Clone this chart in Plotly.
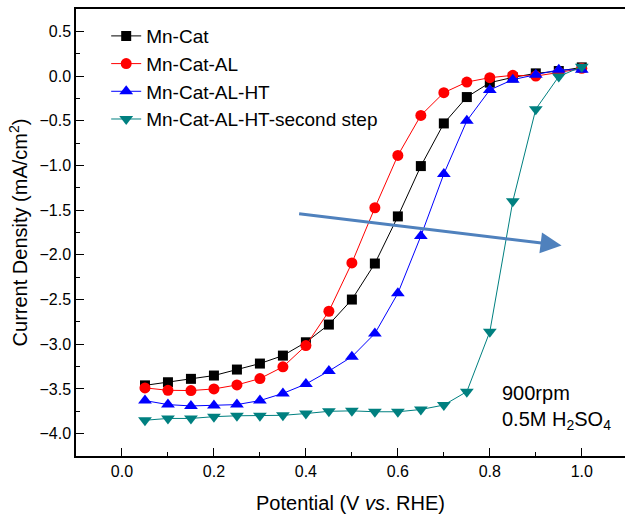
import plotly.graph_objects as go

potential = [0.05, 0.10, 0.15, 0.20, 0.25, 0.30, 0.35, 0.40, 0.45, 0.50,
             0.55, 0.60, 0.65, 0.70, 0.75, 0.80, 0.85, 0.90, 0.95, 1.00]

mn_cat = [-3.46, -3.425, -3.387, -3.35, -3.283, -3.216, -3.127, -2.978, -2.78, -2.50,
          -2.097, -1.57, -1.007, -0.53, -0.235, -0.074, -0.015, 0.03, 0.056, 0.097]
mn_cat_al = [-3.488, -3.515, -3.518, -3.50, -3.455, -3.384, -3.253, -3.015, -2.631, -2.09,
             -1.473, -0.888, -0.44, -0.186, -0.067, -0.018, 0.008, 0.0, 0.04, 0.086]
mn_cat_al_ht = [-3.63, -3.675, -3.69, -3.685, -3.675, -3.63, -3.55, -3.445, -3.30, -3.14,
                -2.88, -2.43, -1.79, -1.095, -0.50, -0.155, -0.04, 0.015, 0.07, 0.07]
mn_cat_al_ht_2 = [-3.85, -3.83, -3.83, -3.81, -3.80, -3.80, -3.795, -3.775, -3.75, -3.745,
                  -3.755, -3.755, -3.73, -3.68, -3.53, -2.86, -1.40, -0.37, -0.005, 0.105]

names = ["Mn-Cat", "Mn-Cat-AL", "Mn-Cat-AL-HT", "Mn-Cat-AL-HT-second step"]
colors = ["#000000", "#ff0000", "#0000ff", "#008080"]
symbols = ["square", "circle", "triangle-up", "triangle-down"]
sizes = [10, 11, 12, 12]
series = [mn_cat, mn_cat_al, mn_cat_al_ht, mn_cat_al_ht_2]

fig = go.Figure()
for name, col, sym, sz, ys in zip(names, colors, symbols, sizes, series):
    fig.add_trace(go.Scatter(
        x=potential, y=ys, name=name, mode="lines+markers",
        line=dict(color=col, width=1),
        marker=dict(symbol=sym, size=sz, color=col, line=dict(width=0)),
    ))

font_family = "Liberation Sans, Arial, sans-serif"

fig.add_annotation(
    x=0.956, y=-1.895, ax=0.382, ay=-1.537,
    xref="x", yref="y", axref="x", ayref="y",
    showarrow=True, arrowhead=2, arrowsize=1.4, arrowwidth=3,
    arrowcolor="#4f81bd", text="",
)
fig.add_annotation(
    x=0.822, y=-3.71, xref="x", yref="y", xanchor="left", yanchor="middle",
    text="900rpm<br>0.5M H<sub>2</sub>SO<sub>4</sub>", showarrow=False, align="left",
    font=dict(family=font_family, size=20, color="#000000"),
)

axis_common = dict(
    showgrid=False, zeroline=False, showline=True, linecolor="#000000", linewidth=1.5,
    ticks="inside", ticklen=8, tickwidth=1.2, tickcolor="#000000",
    tickfont=dict(family=font_family, size=16, color="#000000"),
)

fig.update_layout(
    width=625, height=514,
    margin=dict(l=76, r=0, t=9, b=58),
    paper_bgcolor="white", plot_bgcolor="white",
    font=dict(family=font_family, color="#000000"),
    xaxis=dict(
        range=[-0.1, 1.094], tick0=0, dtick=0.2, tickformat=".1f", mirror=True,
        minor=dict(dtick=0.1, ticks="inside", ticklen=4, tickcolor="#000000"),
        title=dict(text="Potential (V <i>vs</i>. RHE)", font=dict(family=font_family, size=20), standoff=19),
        **axis_common,
    ),
    yaxis=dict(
        range=[-4.25, 0.75], tick0=0, dtick=0.5, tickformat=".1f",
        minor=dict(dtick=0.25, ticks="inside", ticklen=4, tickcolor="#000000"),
        title=dict(text="Current Density (mA/cm<sup>2</sup>)", font=dict(family=font_family, size=20), standoff=6),
        **axis_common,
    ),
    legend=dict(
        x=0.055, y=0.982, xanchor="left", yanchor="top",
        bgcolor="rgba(0,0,0,0)", borderwidth=0,
        font=dict(family=font_family, size=19, color="#000000"),
        tracegroupgap=0,
    ),
    showlegend=True,
)

fig.write_html("out.html")
